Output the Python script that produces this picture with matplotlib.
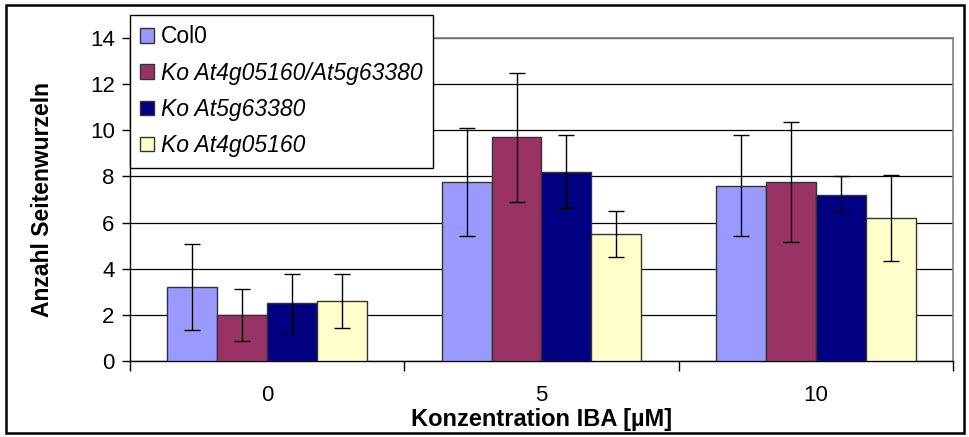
import numpy as np
import matplotlib
matplotlib.use("Agg")
import matplotlib.pyplot as plt
from matplotlib.patches import Rectangle

plt.rcParams["font.family"] = ["Liberation Sans", "DejaVu Sans"]

# data
concentrations = ["0", "5", "10"]
series_names = ["Col0", "Ko At4g05160/At5g63380", "Ko At5g63380", "Ko At4g05160"]
col0     = [3.2, 7.75, 7.6]
ko_both  = [2.0, 9.7, 7.75]
ko_5g    = [2.5, 8.2, 7.2]
ko_4g    = [2.6, 5.5, 6.2]
col0_err    = [1.87, 2.35, 2.18]
ko_both_err = [1.12, 2.8, 2.6]
ko_5g_err   = [1.27, 1.58, 0.8]
ko_4g_err   = [1.15, 1.0, 1.87]
y_ticks = [0, 2, 4, 6, 8, 10, 12, 14]

COLORS = ["#9999FF", "#993366", "#000080", "#FFFFCC"]

values = [col0, ko_both, ko_5g, ko_4g]
errors = [col0_err, ko_both_err, ko_5g_err, ko_4g_err]

fig = plt.figure(figsize=(9.69, 4.37), dpi=100)
ax = fig.add_axes([130 / 969, 76 / 437, 823 / 969, 323 / 437])

x = np.arange(len(concentrations))
width = 1 / 5.5
handles = []
for i, (vals, errs) in enumerate(zip(values, errors)):
    pos = x + (i - 1.5) * width
    b = ax.bar(pos, vals, width=width, color=COLORS[i], edgecolor="#333333",
               linewidth=1.0, zorder=3, label=series_names[i])
    ax.errorbar(pos, vals, yerr=errs, fmt="none", ecolor="black",
                elinewidth=1.0, capsize=6, capthick=1.0, zorder=4)
    handles.append(b)

ax.set_xlim(-0.5, 2.5)
ax.set_ylim(0, 14)
ax.set_yticks(y_ticks)
ax.set_yticklabels([str(t) for t in y_ticks], fontsize=16)
ax.yaxis.grid(True, color="black", linewidth=0.9, zorder=0)
ax.set_axisbelow(True)

# category ticks at the boundaries, labels in the middle
ax.set_xticks([-0.5, 0.5, 1.5, 2.5])
ax.set_xticklabels([])
ax.set_xticks(x, minor=True)
ax.set_xticklabels(concentrations, minor=True, fontsize=16)
ax.tick_params(axis="x", which="major", length=7, width=1, direction="out")
ax.tick_params(axis="x", which="minor", length=0, pad=17)
ax.tick_params(axis="y", length=6, width=1, direction="out", pad=5)

ax.set_xlabel("Konzentration IBA [µM]", fontsize=17, fontweight="bold")
ax.xaxis.set_label_coords(0.5, -0.147)
ax.set_ylabel("Anzahl Seitenwurzeln", fontsize=16.5, fontweight="bold", labelpad=26)

for side in ["top", "right"]:
    ax.spines[side].set_color("#808080")
    ax.spines[side].set_linewidth(1.2)
for side in ["left", "bottom"]:
    ax.spines[side].set_color("black")
    ax.spines[side].set_linewidth(1.0)

leg = ax.legend(handles=handles, loc="upper left",
                bbox_to_anchor=(130 / 969, 1 - 15 / 437),
                bbox_transform=fig.transFigure, borderaxespad=0,
                fontsize=16.5, frameon=True, fancybox=False, framealpha=1,
                edgecolor="black", handlelength=0.6, handleheight=0.6,
                handletextpad=0.3, labelspacing=0.58, borderpad=0.45)
leg.get_frame().set_linewidth(1.0)
leg.set_zorder(10)
for t in leg.get_texts()[1:]:
    t.set_fontstyle("italic")

# outer chart border
fig.patches.append(Rectangle((6 / 969, 4 / 437), 958 / 969, 428 / 437,
                             transform=fig.transFigure, fill=False,
                             edgecolor="black", linewidth=1.8))

fig.savefig("out.png", dpi=100)
